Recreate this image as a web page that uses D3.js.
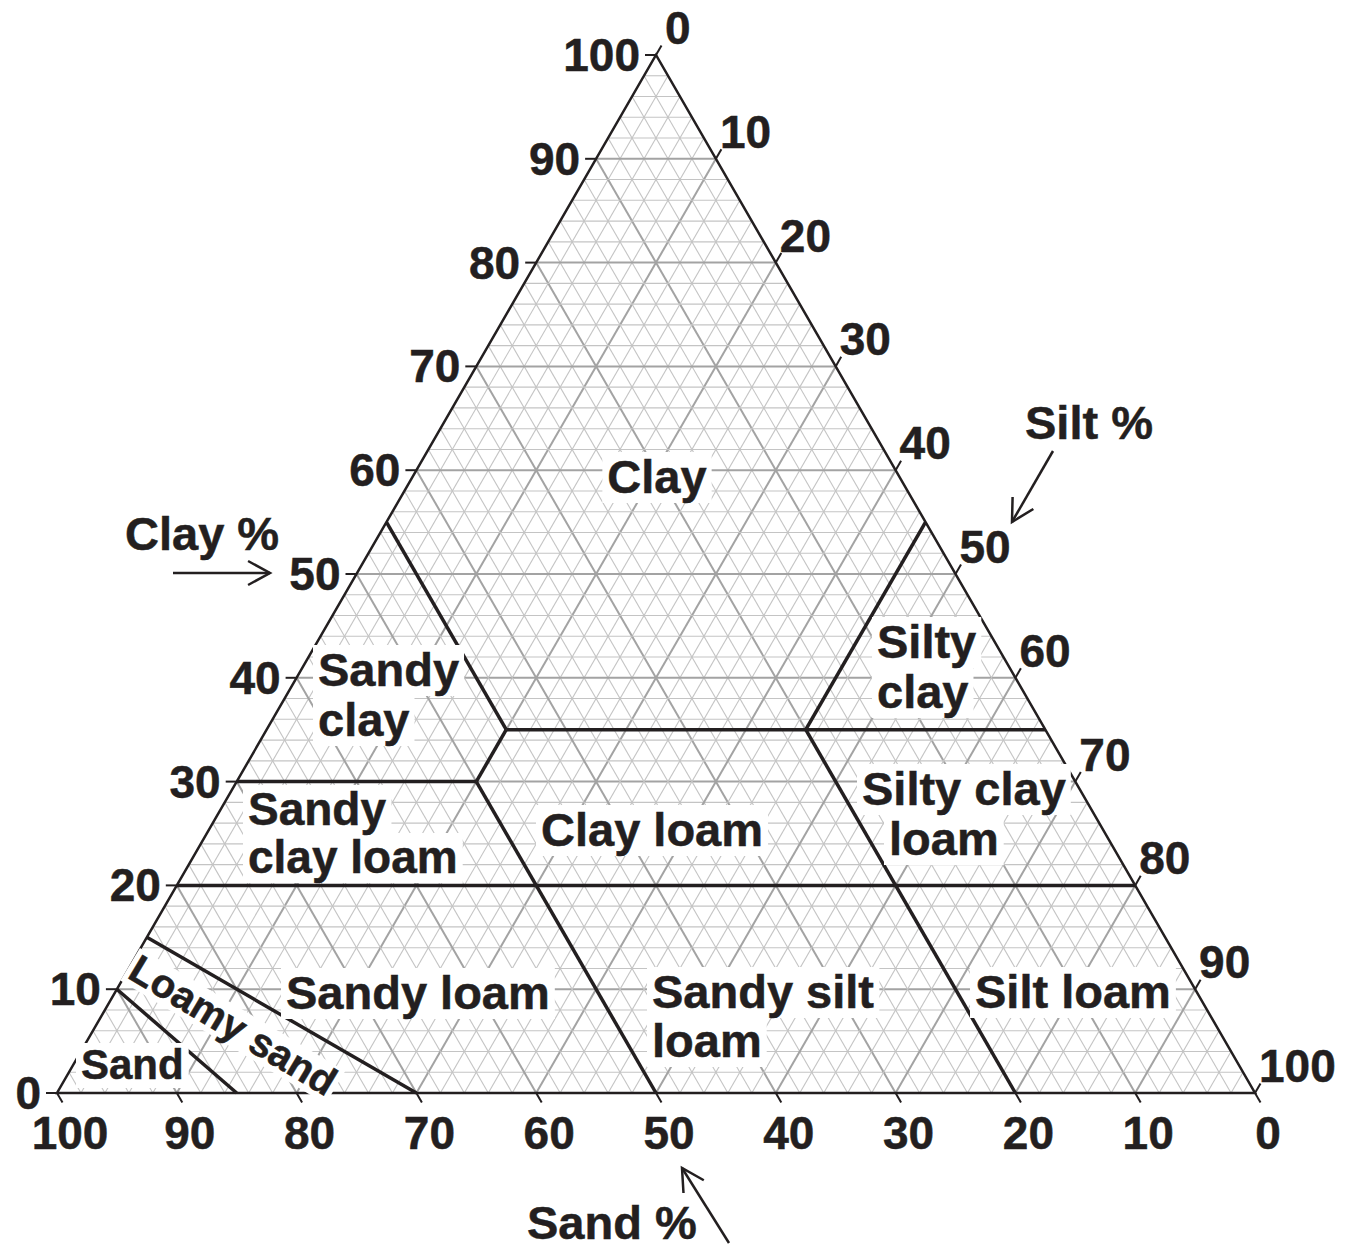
<!DOCTYPE html>
<html>
<head>
<meta charset="utf-8">
<script src="https://cdn.jsdelivr.net/npm/d3@7"></script>
<style>
  body { margin: 0; background: #fff; }
  text { font-family: "Liberation Sans", Arial, sans-serif; font-weight: bold; fill: #231f20; stroke: #231f20; stroke-width: 0.5px; }
</style>
</head>
<body>
<svg id="chart" width="1345" height="1249"></svg>
<script>
// tick values on each side of the triangle
var clayTicks = [0, 10, 20, 30, 40, 50, 60, 70, 80, 90, 100];
var siltTicks = [0, 10, 20, 30, 40, 50, 60, 70, 80, 90, 100];
var sandTicks = [100, 90, 80, 70, 60, 50, 40, 30, 20, 10, 0];

// class boundaries, each point is [sand, silt, clay]
var boundaries = [
    [[45, 20, 35], [0, 65, 35]],
    [[45, 0, 55], [45, 20, 35]],
    [[0, 45, 55], [20, 45, 35]],
    [[70, 0, 30], [50, 20, 30]],
    [[50, 20, 30], [45, 20, 35]],
    [[50, 20, 30], [50, 50, 0]],
    [[80, 0, 20], [0, 80, 20]],
    [[20, 45, 35], [20, 80, 0]],
    [[85, 0, 15], [70, 30, 0]],
    [[90, 0, 10], [85, 15, 0]]
];

// texture class names (one entry per text line)
var classNames = [
    ["Clay"],
    ["Silty", "clay"],
    ["Silty clay", "loam"],
    ["Sandy", "clay"],
    ["Sandy", "clay loam"],
    ["Clay loam"],
    ["Sandy loam"],
    ["Sandy silt", "loam"],
    ["Silt loam"],
    ["Sand"]
];
var axisTitles = ["Clay %", "Silt %", "Sand %"];

// where the names sit (pixels): x per line, baseline per line, anchor, size
var classLayout = [
    {x: [657], y: [493], anchor: "middle", size: 47},
    {x: [877, 877], y: [658, 708], anchor: "start", size: 47},
    {x: [862, 889], y: [805, 855], anchor: "start", size: 47},
    {x: [318, 318], y: [686, 736], anchor: "start", size: 47},
    {x: [248, 248], y: [825, 873], anchor: "start", size: 46},
    {x: [541], y: [846], anchor: "start", size: 47},
    {x: [286], y: [1009], anchor: "start", size: 47},
    {x: [652, 652], y: [1008, 1057], anchor: "start", size: 47},
    {x: [975], y: [1008], anchor: "start", size: 47},
    {x: [81], y: [1079], anchor: "start", size: 42}
];
var titleLayout = [
    {x: 125, y: 550, arrow: [[173, 573], [270, 573]]},
    {x: 1025, y: 439, arrow: [[1053, 451], [1012, 522]]},
    {x: 527, y: 1239, arrow: [[729, 1243], [682, 1168]]}
];

var svg = d3.select("#chart");
svg.append("rect").attr("width", 1345).attr("height", 1249).attr("fill", "#fff");

var xScale = d3.scaleLinear().domain([0, 100]).range([57, 1255]);
var yScale = d3.scaleLinear().domain([0, 100]).range([1093, 55]);

function pt(sand, silt, clay) {
    return [xScale(silt + clay / 2), yScale(clay)];
}

var line = d3.line();

// grid every 2 %
var gridG = svg.append("g");
d3.range(2, 100, 2).forEach(function (v) {
    var major = v % 10 === 0;
    var segs = [
        [pt(100 - v, 0, v), pt(0, 100 - v, v)],
        [pt(100 - v, v, 0), pt(0, v, 100 - v)],
        [pt(v, 100 - v, 0), pt(v, 0, 100 - v)]
    ];
    segs.forEach(function (s) {
        gridG.append("path")
            .attr("d", line(s))
            .attr("stroke", major ? "#a3a3a3" : "#c4c4c4")
            .attr("stroke-width", major ? 2 : 1.1)
            .attr("fill", "none");
    });
});

// class names with white boxes behind
var labelG = svg.append("g");
var boxG = labelG.append("g");
classNames.forEach(function (lines, i) {
    var lay = classLayout[i];
    lines.forEach(function (txt, j) {
        var t = labelG.append("text")
            .attr("x", lay.x[j])
            .attr("y", lay.y[j])
            .attr("text-anchor", lay.anchor)
            .attr("font-size", lay.size)
            .text(txt);
        var b = t.node().getBBox();
        boxG.append("rect")
            .attr("x", b.x - 5).attr("y", b.y + 2)
            .attr("width", b.width + 10).attr("height", b.height - 2)
            .attr("fill", "#fff");
    });
});

// loamy sand sits rotated along its strip
var ls = labelG.append("g").attr("transform", "translate(126,977) rotate(31)");
var lsText = ls.append("text").attr("font-size", 40).text("Loamy sand");
var lb = lsText.node().getBBox();
ls.insert("rect", "text")
    .attr("x", lb.x - 3).attr("y", lb.y + 4)
    .attr("width", lb.width + 6).attr("height", lb.height - 6)
    .attr("fill", "#fff");

// boundaries
svg.append("g").selectAll("path")
    .data(boundaries)
    .enter().append("path")
    .attr("d", function (d) {
        return line(d.map(function (p) { return pt(p[0], p[1], p[2]); }));
    })
    .attr("stroke", "#231f20")
    .attr("stroke-width", 3.5)
    .attr("fill", "none");

// outline
svg.append("path")
    .attr("d", line([pt(100, 0, 0), pt(0, 100, 0), pt(0, 0, 100)]) + "Z")
    .attr("stroke", "#231f20")
    .attr("stroke-width", 2.5)
    .attr("fill", "none");

// move labels on top of boundaries
labelG.raise();

// ticks and tick labels
var tickLen = 11;
var axG = svg.append("g");
clayTicks.forEach(function (v) {
    var p = pt(100 - v, 0, v);
    axG.append("path").attr("d", line([p, [p[0] - tickLen, p[1]]]))
        .attr("stroke", "#231f20").attr("stroke-width", 2);
    axG.append("text").attr("x", p[0] - 16).attr("y", p[1] + 16)
        .attr("text-anchor", "end").attr("font-size", 46).text(v);
});
siltTicks.forEach(function (v) {
    var p = pt(0, v, 100 - v);
    axG.append("path").attr("d", line([p, [p[0] + tickLen * 0.5, p[1] - tickLen * 0.866]]))
        .attr("stroke", "#231f20").attr("stroke-width", 2);
    axG.append("text").attr("x", p[0] + (v === 0 ? 9 : 4)).attr("y", p[1] - 11)
        .attr("font-size", 46).text(v);
});
sandTicks.forEach(function (v) {
    var p = pt(v, 100 - v, 0);
    axG.append("path").attr("d", line([p, [p[0] + tickLen * 0.5, p[1] + tickLen * 0.866]]))
        .attr("stroke", "#231f20").attr("stroke-width", 2);
    axG.append("text").attr("x", p[0] + 13).attr("y", 1149)
        .attr("text-anchor", "middle").attr("font-size", 46).text(v);
});

// axis titles with open arrows
axisTitles.forEach(function (name, i) {
    var lay = titleLayout[i];
    svg.append("text").attr("x", lay.x).attr("y", lay.y)
        .attr("font-size", 47).text(name);
    var a = lay.arrow[0], b = lay.arrow[1];
    var ang = Math.atan2(b[1] - a[1], b[0] - a[0]);
    var hl = 25, hw = 0.5;
    var h1 = [b[0] - hl * Math.cos(ang - hw), b[1] - hl * Math.sin(ang - hw)];
    var h2 = [b[0] - hl * Math.cos(ang + hw), b[1] - hl * Math.sin(ang + hw)];
    svg.append("path").attr("d", line([a, b]))
        .attr("stroke", "#231f20").attr("stroke-width", 2.5).attr("fill", "none");
    svg.append("path").attr("d", line([h1, b, h2]))
        .attr("stroke", "#231f20").attr("stroke-width", 2.5).attr("fill", "none");
});
</script>
</body>
</html>
